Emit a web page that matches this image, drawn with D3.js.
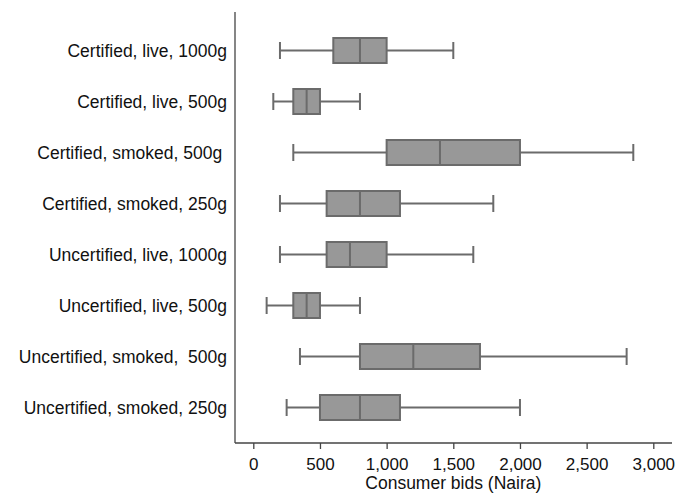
<!DOCTYPE html>
<html>
<head>
<meta charset="utf-8">
<script src="https://cdn.jsdelivr.net/npm/d3@7"></script>
<style>
    body { margin: 0; background: #fff; }
    svg { display: block; font-family: "Liberation Sans", Arial, sans-serif; }
    .lbl { white-space: pre; }
</style>
</head>
<body>
<svg id="chart" width="678" height="495"></svg>
<script>
(function () {
    'use strict';

    // categories, top to bottom
    var categories = [
        'Certified, live, 1000g',
        'Certified, live, 500g',
        'Certified, smoked, 500g ',
        'Certified, smoked, 250g',
        'Uncertified, live, 1000g',
        'Uncertified, live, 500g',
        'Uncertified, smoked,  500g',
        'Uncertified, smoked, 250g'
    ];

    // box plot stats (Naira)
    var lowWhisker = [200, 150, 300, 200, 200, 100, 350, 250];
    var q1 = [600, 300, 1000, 550, 550, 300, 800, 500];
    var median = [800, 400, 1400, 800, 725, 400, 1200, 800];
    var q3 = [1000, 500, 2000, 1100, 1000, 500, 1700, 1100];
    var highWhisker = [1500, 800, 2850, 1800, 1650, 800, 2800, 2000];

    var xTicks = [0, 500, 1000, 1500, 2000, 2500, 3000];

    var svg = d3.select('#chart');

    var left = 235, right = 672, top = 12, bottom = 443;

    var x = d3.scaleLinear().domain([0, 3000]).range([253.3, 653.3]);
    var y = d3.scaleBand().domain(categories).range([25, 433]).padding(0);

    var rows = categories.map(function (c, i) {
        return {
            cat: c, lo: lowWhisker[i], q1: q1[i], med: median[i],
            q3: q3[i], hi: highWhisker[i]
        };
    });

    var boxH = 25, capH = 17, strokeC = '#6b6b6b';

    var g = svg.selectAll('g.row').data(rows).enter()
        .append('g').attr('class', 'row')
        .attr('transform', function (d) {
            return 'translate(0,' + (y(d.cat) + y.bandwidth() / 2) + ')';
        });

    // whisker lines
    g.append('line')
        .attr('x1', function (d) { return x(d.lo); })
        .attr('x2', function (d) { return x(d.q1); })
        .attr('stroke', strokeC).attr('stroke-width', 2);
    g.append('line')
        .attr('x1', function (d) { return x(d.q3); })
        .attr('x2', function (d) { return x(d.hi); })
        .attr('stroke', strokeC).attr('stroke-width', 2);

    // caps
    g.append('line')
        .attr('x1', function (d) { return x(d.lo); })
        .attr('x2', function (d) { return x(d.lo); })
        .attr('y1', -capH / 2).attr('y2', capH / 2)
        .attr('stroke', strokeC).attr('stroke-width', 2);
    g.append('line')
        .attr('x1', function (d) { return x(d.hi); })
        .attr('x2', function (d) { return x(d.hi); })
        .attr('y1', -capH / 2).attr('y2', capH / 2)
        .attr('stroke', strokeC).attr('stroke-width', 2);

    // box
    g.append('rect')
        .attr('x', function (d) { return x(d.q1); })
        .attr('width', function (d) { return x(d.q3) - x(d.q1); })
        .attr('y', -boxH / 2).attr('height', boxH)
        .attr('fill', '#989898')
        .attr('stroke', strokeC).attr('stroke-width', 2);

    // median
    g.append('line')
        .attr('x1', function (d) { return x(d.med); })
        .attr('x2', function (d) { return x(d.med); })
        .attr('y1', -boxH / 2).attr('y2', boxH / 2)
        .attr('stroke', strokeC).attr('stroke-width', 2);

    // category labels
    g.append('text')
        .attr('class', 'lbl')
        .attr('x', 227).attr('dy', '0.35em')
        .attr('text-anchor', 'end')
        .attr('font-size', 17.5).attr('fill', '#111')
        .text(function (d) { return d.cat; });

    // axes
    svg.append('line')
        .attr('x1', left).attr('x2', left).attr('y1', top).attr('y2', bottom)
        .attr('stroke', '#444').attr('stroke-width', 1.3);
    svg.append('line')
        .attr('x1', left).attr('x2', right).attr('y1', bottom).attr('y2', bottom)
        .attr('stroke', '#444').attr('stroke-width', 1.3);

    var xAxis = svg.append('g')
        .attr('transform', 'translate(0,' + bottom + ')')
        .call(d3.axisBottom(x).tickValues(xTicks)
            .tickFormat(d3.format(',')).tickSize(6).tickPadding(9));
    xAxis.select('.domain').remove();
    xAxis.selectAll('.tick line').attr('stroke', '#444').attr('stroke-width', 1.3);
    xAxis.selectAll('.tick text')
        .attr('font-size', 17).attr('fill', '#111')
        .style('font-family', '"Liberation Sans", Arial, sans-serif');

    svg.append('text')
        .attr('x', x(1500)).attr('y', 489)
        .attr('text-anchor', 'middle')
        .attr('font-size', 17.5).attr('fill', '#111')
        .text('Consumer bids (Naira)');
}());
</script>
</body>
</html>
